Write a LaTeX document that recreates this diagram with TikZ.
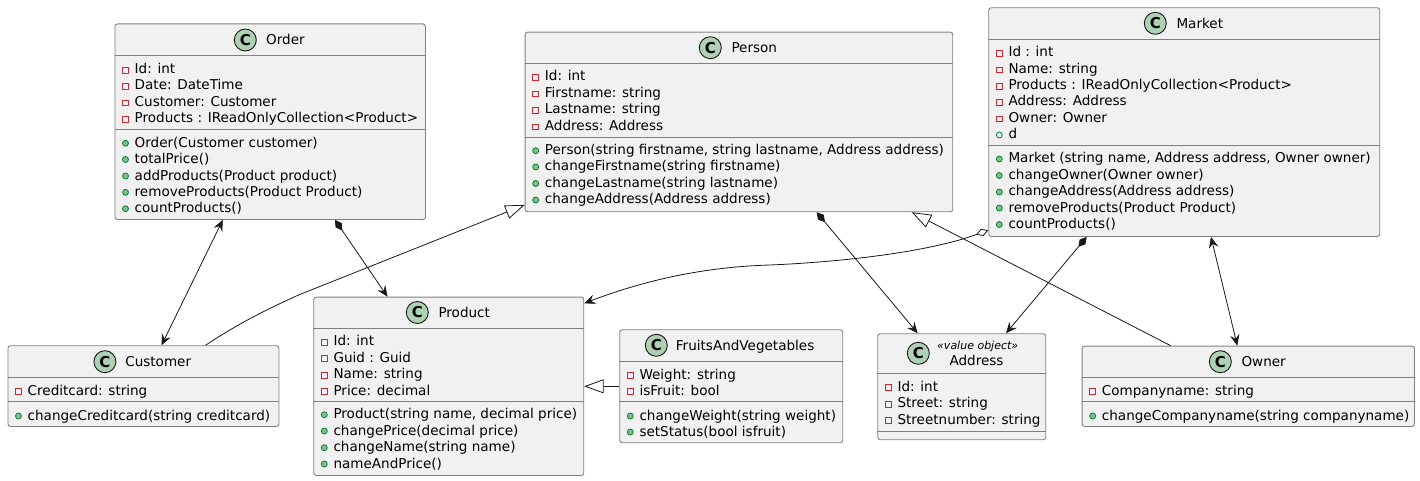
\documentclass[tikz,border=0pt]{standalone}
\usepackage{fontspec}
\setmainfont{DejaVu Sans}
\usetikzlibrary{arrows.meta}
\definecolor{boxfill}{HTML}{F1F1F1}
\definecolor{boxline}{HTML}{808080}
\definecolor{ink}{HTML}{181818}
\definecolor{iconfill}{HTML}{ADD1B2}
\definecolor{privred}{HTML}{C82930}
\definecolor{pubgreen}{HTML}{84BE84}
\definecolor{publine}{HTML}{038048}
\newcounter{rown}
\tikzset{
  x=1pt,y=-1pt,
  classbody/.style={draw=boxline,fill=boxfill,line width=0.9pt,rounded corners=2.5pt,inner sep=0pt,anchor=north west},
  divider/.style={draw=boxline,line width=0.9pt},
  rowtext/.style={inner sep=0pt,anchor=base west,text=black,font=\fontsize{13.55}{14}\selectfont},
  titletext/.style={inner sep=0pt,anchor=base west,text=black,font=\fontsize{13.55}{14}\selectfont},
  stereotext/.style={inner sep=0pt,anchor=base,text=black,font=\fontsize{11}{12}\selectfont\itshape},
  cicon/.style={circle,draw=ink,fill=iconfill,line width=0.9pt,minimum size=22pt,inner sep=0pt,font=\fontsize{15}{15}\selectfont\bfseries},
  privicon/.style={rectangle,draw=privred,line width=0.9pt,minimum size=5.6pt,inner sep=0pt},
  pubicon/.style={circle,draw=publine,fill=pubgreen,line width=0.8pt,minimum size=6pt,inner sep=0pt},
  pubhollow/.style={circle,draw=publine,line width=0.8pt,minimum size=6pt,inner sep=0pt},
  conn/.style={draw=ink,line width=0.8pt},
  bothheads/.style={{Stealth[length=11pt,width=9.5pt,inset=4pt]}-{Stealth[length=11pt,width=9.5pt,inset=4pt]}},
  compline/.style={{Diamond[length=13pt,width=7.5pt]}-{Stealth[length=11pt,width=9.5pt,inset=4pt]}},
  aggline/.style={{Diamond[open,fill=white,length=13pt,width=7.5pt]}-{Stealth[length=11pt,width=9.5pt,inset=4pt]}},
  extline/.style={-{Triangle[open,fill=white,length=19.5pt,width=14pt]}},
}
% name, x0, y0, x1, y1, divider 1 y, divider 2 y
\newcommand{\classbox}[7]{%
  \pgfmathsetmacro{\cw}{#4-#2}\pgfmathsetmacro{\ch}{#5-#3}%
  \pgfmathsetmacro{\da}{#6-#3}\pgfmathsetmacro{\db}{#7-#3}%
  \node[classbody,minimum width=\cw pt,minimum height=\ch pt] (#1) at (#2,#3) {};
  \draw[divider] ([yshift=-\da pt]#1.north west) -- ([yshift=-\da pt]#1.north east);
  \draw[divider] ([yshift=-\db pt]#1.north west) -- ([yshift=-\db pt]#1.north east);
}
% name, icon x, icon y, title x, baseline, title
\newcommand{\classhead}[6]{%
  \node[cicon] (#1icon) at (#2,#3) {C};
  \node[titletext] (#1title) at (#4,#5) {#6};
}
% x0, baseline, text
\newcommand{\priv}[3]{\stepcounter{rown}%
  \node[privicon] (i\arabic{rown}) at (#1+11,#2-3.5) {};
  \node[rowtext] (r\arabic{rown}) at (#1+20,#2) {#3};}
\newcommand{\pub}[3]{\stepcounter{rown}%
  \node[pubicon] (i\arabic{rown}) at (#1+11,#2-4) {};
  \node[rowtext] (r\arabic{rown}) at (#1+20,#2) {#3};}
\newcommand{\pubo}[3]{\stepcounter{rown}%
  \node[pubhollow] (i\arabic{rown}) at (#1+11,#2-4) {};
  \node[rowtext] (r\arabic{rown}) at (#1+20,#2) {#3};}
\begin{document}
\begin{tikzpicture}
\useasboundingbox (0,0) rectangle (1420,481);
% Order
\classbox{order}{114.5}{23.5}{425}{219}{55.7}{129.3}
\classhead{order}{245.3}{40}{266}{45}{Order}
\priv{114.5}{73.7}{Id: int}
\priv{114.5}{90}{Date: DateTime}
\priv{114.5}{106.4}{Customer: Customer}
\priv{114.5}{122.8}{Products : IReadOnlyCollection<Product>}
\pub{114.5}{147.3}{Order(Customer customer)}
\pub{114.5}{163.5}{totalPrice()}
\pub{114.5}{180}{addProducts(Product product)}
\pub{114.5}{196.3}{removeProducts(Product Product)}
\pub{114.5}{212.7}{countProducts()}
% Person
\classbox{person}{524.7}{31.7}{952.3}{211.3}{63.3}{137.3}
\classhead{person}{710.3}{47.7}{731.3}{52.7}{Person}
\priv{524.7}{81}{Id: int}
\priv{524.7}{97.5}{Firstname: string}
\priv{524.7}{114}{Lastname: string}
\priv{524.7}{130.5}{Address: Address}
\pub{524.7}{154.7}{Person(string firstname, string lastname, Address address)}
\pub{524.7}{171}{changeFirstname(string firstname)}
\pub{524.7}{187.5}{changeLastname(string lastname)}
\pub{524.7}{204}{changeAddress(Address address)}
% Market
\classbox{market}{988.3}{7.3}{1379.3}{236}{39.3}{145.3}
\classhead{market}{1155.3}{23.3}{1176.3}{28.3}{Market}
\priv{988.3}{57}{Id : int}
\priv{988.3}{73.5}{Name: string}
\priv{988.3}{90}{Products : IReadOnlyCollection<Product>}
\priv{988.3}{106}{Address: Address}
\priv{988.3}{122.5}{Owner: Owner}
\pubo{988.3}{139}{d}
\pub{988.3}{163}{Market (string name, Address address, Owner owner)}
\pub{988.3}{179.5}{changeOwner(Owner owner)}
\pub{988.3}{196}{changeAddress(Address address)}
\pub{988.3}{212}{removeProducts(Product Product)}
\pub{988.3}{228.5}{countProducts()}
% Customer
\classbox{customer}{7.5}{345.3}{278.5}{426}{377.3}{401.3}
\classhead{customer}{104.9}{361.7}{125.1}{366.7}{Customer}
\priv{7.5}{395}{Creditcard: string}
\pub{7.5}{420}{changeCreditcard(string creditcard)}
% Product
\classbox{product}{313.3}{296.7}{583.3}{475}{328.3}{401.3}
\classhead{product}{417.3}{312.5}{438.3}{317.5}{Product}
\priv{313.3}{345.7}{Id: int}
\priv{313.3}{362}{Guid : Guid}
\priv{313.3}{378.7}{Name: string}
\priv{313.3}{395}{Price: decimal}
\pub{313.3}{418.7}{Product(string name, decimal price)}
\pub{313.3}{435}{changePrice(decimal price)}
\pub{313.3}{451.7}{changeName(string name)}
\pub{313.3}{468}{nameAndPrice()}
% FruitsAndVegetables
\classbox{fruits}{619.3}{329.3}{842.3}{442.3}{361.3}{401.3}
\classhead{fruits}{656.3}{345.3}{675.7}{350.3}{FruitsAndVegetables}
\priv{619.3}{379}{Weight: string}
\priv{619.3}{395}{isFruit: bool}
\pub{619.3}{420}{changeWeight(string weight)}
\pub{619.3}{436}{setStatus(bool isfruit)}
% Address
\classbox{address}{877.3}{333.3}{1045.3}{439.3}{373.3}{431.3}
\node[cicon] (addressicon) at (918.3,353.3) {C};
\node[stereotext] (addressstereo) at (977.7,349) {«value object»};
\node[titletext] (addresstitle) at (949.3,365.7) {Address};
\priv{877.3}{391}{Id: int}
\priv{877.3}{407.7}{Street: string}
\priv{877.3}{424}{Streetnumber: string}
% Owner
\classbox{owner}{1081.7}{345.7}{1414}{426}{377.3}{401.3}
\classhead{owner}{1220.3}{361.7}{1241.3}{366.7}{Owner}
\priv{1081.7}{395}{Companyname: string}
\pub{1081.7}{420}{changeCompanyname(string companyname)}
% Connectors
\draw[conn,bothheads] ([xshift=108.3pt]order.south west) -- ([xshift=154pt]customer.north west);
\draw[conn,compline] ([xshift=220.5pt]order.south west) -- ([xshift=74.2pt]product.north west);
\draw[conn,compline] ([xshift=292pt]person.south west) -- ([xshift=40.4pt]address.north west);
\draw[conn,compline] ([xshift=98.4pt]market.south west) -- ([xshift=128.7pt]address.north west);
\draw[conn,bothheads] ([xshift=222.7pt]market.south west) -- ([xshift=155.6pt]owner.north west);
\draw[conn,extline] ([xshift=198pt]customer.north west) .. controls +(34.5,-23) and (270,308) .. (298.5,295) -- ([yshift=7.3pt]person.south west);
\draw[conn,extline] ([xshift=89pt]owner.north west) -- ([xshift=387pt]person.south west);
\draw[conn,extline] ([yshift=-57pt]fruits.north west) -- ([yshift=-89.6pt]product.north east);
\draw[conn,aggline] ([yshift=6.7pt]market.south west) .. controls (920,255) and (820,263) .. (770,265) .. controls (700,267) and (640,282) .. ([yshift=-6.6pt]product.north east);
\end{tikzpicture}
\end{document}
